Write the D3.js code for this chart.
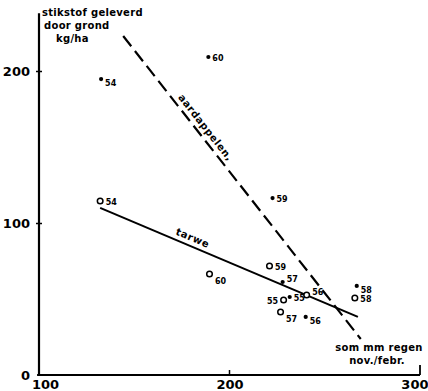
<!DOCTYPE html>
<html>
<head>
<meta charset="utf-8">
<script src="https://cdn.jsdelivr.net/npm/d3@7"></script>
<style>
  body { margin: 0; background: #fff; }
  svg text { font-family: "DejaVu Sans", sans-serif; font-weight: bold; fill: #000; }
</style>
</head>
<body>
<div id="chart"></div>
<script>
// aardappelen (dots) and tarwe (open circles), per year
var years = ["54", "60", "59", "57", "55", "56", "58"];
var potatoRain = [132.6, 188.9, 222.6, 227.9, 231.6, 240, 266.8];
var potatoN    = [194.7, 209.2, 116.4, 61.2, 51.3, 38.2, 58.6];
var wheatRain  = [132.1, 189.5, 221, 226.8, 228.4, 240.5, 265.8];
var wheatN     = [114.5, 66.4, 71.7, 41.4, 49.3, 52.6, 50.7];

// fitted lines, endpoints
var potatoLine = [[144.2, 223], [268.9, 23.7]];
var wheatLine  = [[132.1, 109.9], [267.4, 38.2]];

var xTicks = [100, 200, 300];
var yTicks = [0, 100, 200];

// where each year label sits next to its mark
var potatoLabelSide = ["br", "r", "r", "tr", "r", "br", "br"];
var wheatLabelSide  = ["r", "b", "r", "b", "l", "tr", "r"];

var W = 428, H = 391;

var svg = d3.select("#chart").append("svg")
    .attr("width", W)
    .attr("height", H);

var x = d3.scaleLinear().domain([100, 300]).range([39, 420]);
var y = d3.scaleLinear().domain([0, 200]).range([375, 71]);

// axes
var yAxis = d3.axisLeft(y).tickValues(yTicks).tickSize(4).tickPadding(5);
var gy = svg.append("g")
    .attr("transform", "translate(" + x(100) + ",0)")
    .call(yAxis);
gy.select(".domain").remove();
gy.selectAll(".tick line").attr("x1", 3).attr("x2", -3).attr("stroke-width", 1.5);
gy.selectAll(".tick").filter(function(d) { return d === 0; }).select("line").remove();
gy.selectAll(".tick text").style("font-size", "13px").attr("dy", "0.36em");

var xAxis = d3.axisBottom(x).tickValues(xTicks).tickSize(0).tickPadding(0);
var gx = svg.append("g")
    .attr("transform", "translate(0," + y(0) + ")")
    .call(xAxis);
gx.select(".domain").remove();
gx.selectAll(".tick line").remove();
gx.selectAll(".tick text").style("font-size", "13px").attr("y", 14).attr("dy", 0);
gx.selectAll(".tick").filter(function(d) { return d === 100; }).select("text").attr("dx", 6);
gx.selectAll(".tick").filter(function(d) { return d === 300; }).select("text")
    .attr("text-anchor", "end").attr("dx", 8);

// axis lines drawn by hand so they run past the last tick
svg.append("line")
    .attr("x1", x(100)).attr("x2", x(100))
    .attr("y1", y(238)).attr("y2", y(0) + 1)
    .attr("stroke", "#000").attr("stroke-width", 2.2);
svg.append("line")
    .attr("x1", x(99)).attr("x2", x(300))
    .attr("y1", y(0)).attr("y2", y(0))
    .attr("stroke", "#000").attr("stroke-width", 2);
svg.append("line")
    .attr("x1", x(200)).attr("x2", x(200))
    .attr("y1", y(0)).attr("y2", y(0) - 5)
    .attr("stroke", "#000").attr("stroke-width", 1.5);
svg.append("line")
    .attr("x1", x(300)).attr("x2", x(300))
    .attr("y1", y(0)).attr("y2", y(0) - 10)
    .attr("stroke", "#000").attr("stroke-width", 1.8);

// axis titles
var yTitle = svg.append("text").style("font-size", "10px").attr("letter-spacing", "0.3px");
yTitle.append("tspan").attr("x", 42).attr("y", 16).text("stikstof geleverd");
yTitle.append("tspan").attr("x", 44).attr("y", 29).text("door grond");
yTitle.append("tspan").attr("x", 56).attr("y", 42).text("kg/ha");

var xTitle = svg.append("text").style("font-size", "10px").attr("letter-spacing", "0.3px")
    .attr("text-anchor", "middle");
xTitle.append("tspan").attr("x", 379).attr("y", 351).text("som mm regen");
xTitle.append("tspan").attr("x", 377).attr("y", 364).text("nov./febr.");

// regression lines
var line = d3.line()
    .x(function(d) { return x(d[0]); })
    .y(function(d) { return y(d[1]); });

svg.append("path")
    .datum(potatoLine)
    .attr("d", line)
    .attr("fill", "none")
    .attr("stroke", "#000")
    .attr("stroke-width", 2.2)
    .attr("stroke-dasharray", "13,6");

svg.append("path")
    .datum(wheatLine)
    .attr("d", line)
    .attr("fill", "none")
    .attr("stroke", "#000")
    .attr("stroke-width", 2);

function lineLabel(pts, atX, label, size, offset) {
  var x0 = x(pts[0][0]), y0 = y(pts[0][1]), x1 = x(pts[1][0]), y1 = y(pts[1][1]);
  var t = (x(atX) - x0) / (x1 - x0);
  var px = x0 + t * (x1 - x0), py = y0 + t * (y1 - y0);
  var ang = Math.atan2(y1 - y0, x1 - x0) * 180 / Math.PI;
  svg.append("text")
      .attr("transform", "translate(" + px + "," + py + ") rotate(" + ang + ")")
      .attr("text-anchor", "middle")
      .attr("y", -offset)
      .attr("letter-spacing", "0.6px")
      .style("font-size", size + "px")
      .text(label);
}
lineLabel(potatoLine, 184, "aardappelen,", 10, 5);
lineLabel(wheatLine, 179, "tarwe", 10, 5);

// points
function labelPos(side, gap) {
  if (side === "r")  return {dx: gap, dy: 4, anchor: "start"};
  if (side === "br") return {dx: gap, dy: 7, anchor: "start"};
  if (side === "b")  return {dx: gap, dy: 10, anchor: "start"};
  if (side === "tr") return {dx: gap, dy: 0, anchor: "start"};
  return {dx: -gap, dy: 4, anchor: "end"};
}

years.forEach(function(yr, i) {
  var cx = x(wheatRain[i]), cy = y(wheatN[i]);
  svg.append("circle")
      .attr("cx", cx).attr("cy", cy).attr("r", 2.8)
      .attr("fill", "#fff").attr("stroke", "#000").attr("stroke-width", 1.5);
  var p = labelPos(wheatLabelSide[i], 5.5);
  svg.append("text")
      .attr("x", cx + p.dx).attr("y", cy + p.dy)
      .attr("text-anchor", p.anchor)
      .style("font-size", "8px")
      .text(yr);
});

years.forEach(function(yr, i) {
  var cx = x(potatoRain[i]), cy = y(potatoN[i]);
  svg.append("circle")
      .attr("cx", cx).attr("cy", cy).attr("r", 2.1)
      .attr("fill", "#000");
  var p = labelPos(potatoLabelSide[i], 4);
  svg.append("text")
      .attr("x", cx + p.dx).attr("y", cy + p.dy)
      .attr("text-anchor", p.anchor)
      .style("font-size", "8px")
      .text(yr);
});
</script>
</body>
</html>
